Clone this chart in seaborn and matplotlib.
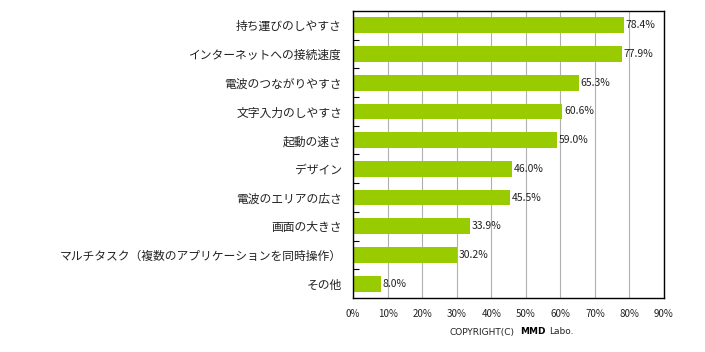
import matplotlib
matplotlib.use("Agg")
import matplotlib.pyplot as plt
import seaborn as sns
import pandas as pd
import numpy as np

categories = ["持ち運びのしやすさ", "インターネットへの接続速度", "電波のつながりやすさ",
              "文字入力のしやすさ", "起動の速さ", "デザイン", "電波のエリアの広さ",
              "画面の大きさ", "マルチタスク（複数のアプリケーションを同時操作）", "その他"]
values = [78.4, 77.9, 65.3, 60.6, 59.0, 46.0, 45.5, 33.9, 30.2, 8.0]
xticks = [0, 10, 20, 30, 40, 50, 60, 70, 80, 90]

sns.set_theme(style="white")
plt.rcParams['font.family'] = ['Noto Sans CJK JP', 'DejaVu Sans']
plt.rcParams['ytick.direction'] = 'in'

df = pd.DataFrame({"cat": categories, "val": values})

fig = plt.figure(figsize=(7.05, 3.52), dpi=100)
ax = fig.add_axes([353/705, 1-298/352, (664-353)/705, (298-11)/352])

sns.barplot(data=df, x="val", y="cat", color="#99CC00", saturation=1,
            width=0.55, linewidth=0, ax=ax, zorder=3)

ax.set_xlim(0, 90)
ax.set_ylim(len(categories)-0.5, -0.5)
ax.set_xticks(xticks)
ax.set_xticklabels([f"{t}%" for t in xticks], fontsize=7, color="#222222")
ax.set_xlabel("")
ax.set_ylabel("")
ax.yaxis.set_tick_params(which='major', length=0, pad=8, labelsize=8.5)
ax.xaxis.set_tick_params(which='major', length=0, pad=8)
for lbl in ax.get_yticklabels():
    lbl.set_color("#222222")
ax.set_yticks(np.arange(0.5, len(categories)-1, 1), minor=True)
ax.yaxis.set_tick_params(which='minor', direction='in', length=4, width=0.8,
                         color='black', left=True, right=False)

ax.grid(axis='x', which='major', color='#b0b0b0', linewidth=0.8, zorder=0)
ax.grid(axis='y', visible=False)
ax.set_axisbelow(True)
for s in ax.spines.values():
    s.set_visible(True)
    s.set_color("black")
    s.set_linewidth(1.0)
    s.set_zorder(5)

for i, v in enumerate(values):
    ax.text(v + 0.5, i, f"{v:.1f}%", va="center", ha="left", fontsize=7.5, color="#222222", zorder=4)

yc = 1 - 332/352
fig.text(450/705, yc, "COPYRIGHT(C)", ha="left", va="center", fontsize=6.5, color="#222222", family=["DejaVu Sans"])
fig.text(520/705, yc, "MMD", ha="left", va="center", fontsize=6.5, fontweight="bold", color="black", family=["DejaVu Sans"])
fig.text(549/705, yc, "Labo.", ha="left", va="center", fontsize=6.5, color="#222222", family=["DejaVu Sans"])

fig.savefig("out.png", dpi=100)
